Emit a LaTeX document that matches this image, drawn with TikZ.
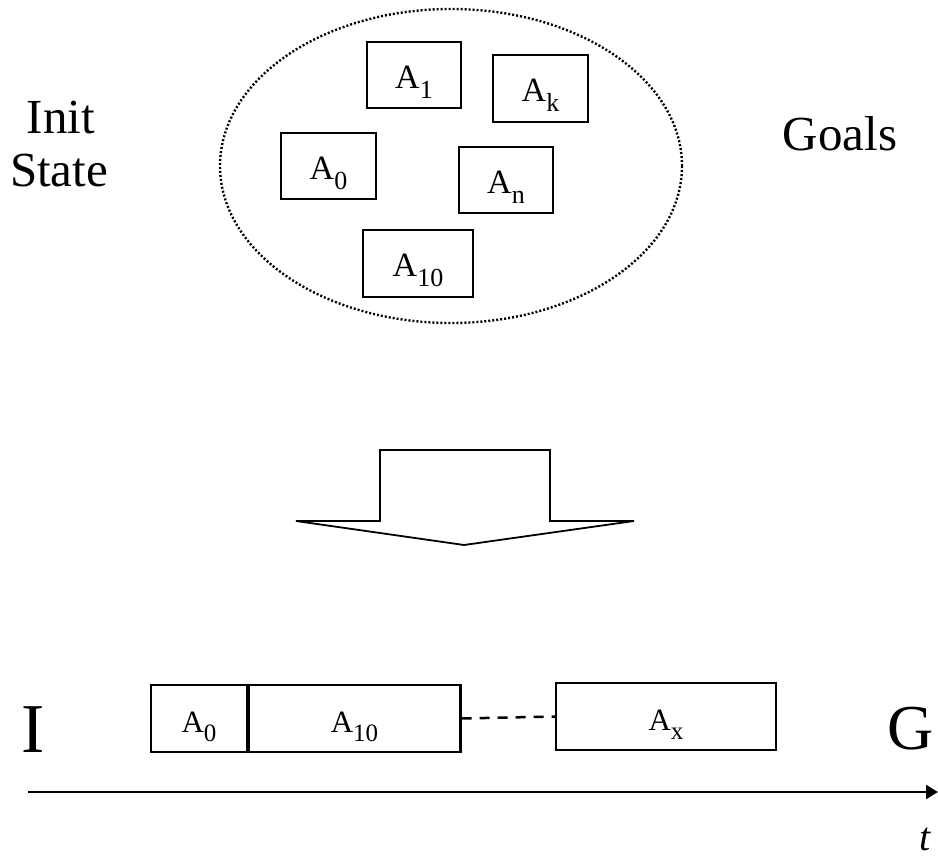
\documentclass[tikz,border=0pt]{standalone}
\usepackage{fontspec}
\setmainfont{Liberation Serif}
\usetikzlibrary{arrows.meta,shapes.geometric}
\newcommand\asub[1]{\raisebox{-0.3em}{\fontsize{26}{26}\selectfont #1}}
\newcommand\bsub[1]{\raisebox{-0.32em}{\fontsize{25}{25}\selectfont #1}}
\tikzset{
  act/.style={draw=black, line width=2.3pt, inner sep=0pt, font=\fontsize{34}{40}\selectfont, text height=30pt, text depth=4pt},
  lowact/.style={act, font=\fontsize{31}{36}\selectfont, text height=31pt, text depth=4pt},
  bigtxt/.style={inner sep=0pt, font=\fontsize{49}{53}\selectfont, align=center},
  blockarrow/.style={draw=black, line width=1.8pt, line join=miter, fill=white},
}
\begin{document}
\begin{tikzpicture}[x=1pt,y=-1pt]
\useasboundingbox (0,0) rectangle (938,862);
% cluster
\node (pool) [draw=black, line width=2.4pt, dash pattern=on 2pt off 2pt, ellipse, minimum width=462pt, minimum height=314pt, inner sep=0pt] at (451,166) {};
\node (a1) [act, minimum width=94pt, minimum height=66pt] at (414,75) {A\asub{1}};
\node (ak) [act, minimum width=95pt, minimum height=67pt] at (540.5,88.5) {A\asub{k}};
\node (a0) [act, minimum width=95pt, minimum height=66pt] at (328.5,166) {A\asub{0}};
\node (an) [act, minimum width=94pt, minimum height=66pt] at (506,180) {A\asub{n}};
\node (a10) [act, minimum width=110pt, minimum height=67pt] at (418,263.5) {A\asub{10}};
% labels
\node (init) [bigtxt, anchor=base] at (61,133) {Init};
\node (state) [bigtxt, anchor=base] at (59,186) {State};
\node (goals) [bigtxt, anchor=base] at (840,150) {Goals};
% block arrow
\draw[blockarrow] (380,450) -- (550,450) -- (550,521) -- (634,521) -- (464,545) -- (296,521) -- (380,521) -- cycle;
% timeline
\node (bi) [inner sep=0pt, anchor=base, font=\fontsize{70}{70}\selectfont] at (33,752) {I};
\node (bg) [inner sep=0pt, anchor=base, font=\fontsize{64}{64}\selectfont] at (911,749) {G};
\node (b0) [lowact, minimum width=96pt, minimum height=67pt] at (199,718.5) {A\bsub{0}};
\node (b10) [lowact, minimum width=212pt, minimum height=67pt] at (354.5,718.5) {A\bsub{10}};
\node (bx) [lowact, minimum width=220pt, minimum height=67pt] at (666,716.5) {A\bsub{x}};
\draw[line width=2.5pt, dash pattern=on 10pt off 8pt] (b10.east) -- (bx.west);
\coordinate (ts) at (28,792);
\coordinate (te) at (938,792);
\draw[line width=2.5pt, -{Triangle[length=12pt,width=14pt]}] (ts) -- (te);
\node (tt) [inner sep=0pt, anchor=base, font=\fontsize{40}{40}\selectfont\itshape] at (925,850) {t};
\end{tikzpicture}
\end{document}
